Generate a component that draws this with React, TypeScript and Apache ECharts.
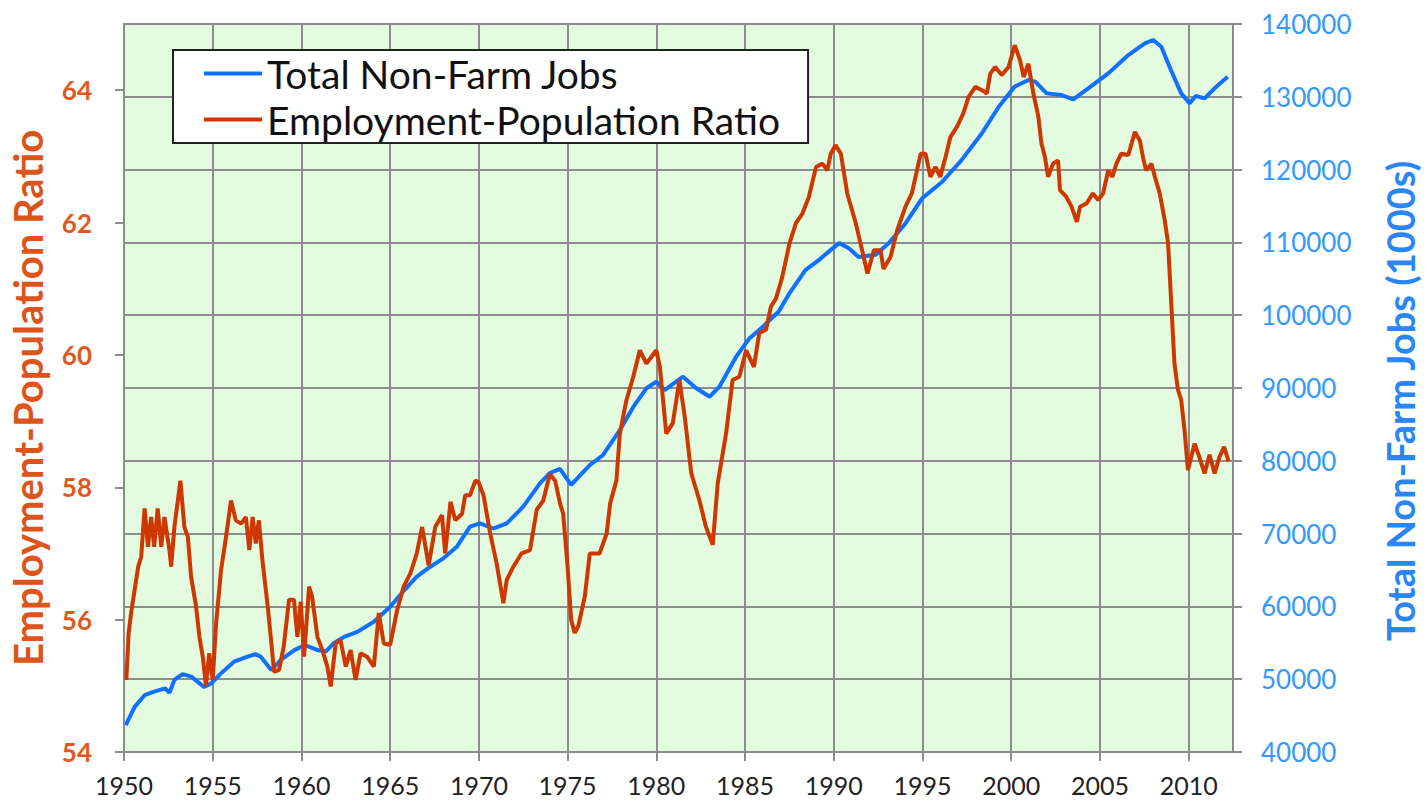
import React, { useEffect, useRef } from "react";
import * as echarts from "echarts";

// Employment-Population Ratio (left axis, %)
const eprYears = [
  1950.13, 1950.26, 1950.4, 1950.6, 1950.8, 1950.97, 1951.16, 1951.35, 1951.53, 1951.7, 1951.9, 1952.1, 1952.28,
  1952.56, 1952.66, 1952.84, 1953.18, 1953.4, 1953.6, 1953.78, 1954.06, 1954.25, 1954.44, 1954.62, 1954.8, 1955.0,
  1955.19, 1955.47, 1955.75, 1956.03, 1956.3, 1956.6, 1956.87, 1957.06, 1957.25, 1957.43, 1957.6, 1957.8, 1958.1,
  1958.27, 1958.46, 1958.74, 1959.0, 1959.3, 1959.58, 1959.77, 1959.96, 1960.15, 1960.43, 1960.6, 1960.9, 1961.18,
  1961.46, 1961.65, 1961.93, 1962.2, 1962.5, 1962.77, 1963.05, 1963.33, 1963.7, 1964.08, 1964.36, 1964.64, 1965.0,
  1965.4, 1965.76, 1966.14, 1966.5, 1966.8, 1967.17, 1967.54, 1967.92, 1968.1, 1968.4, 1968.67, 1969.05, 1969.23,
  1969.5, 1969.8, 1969.98, 1970.26, 1970.64, 1971.0, 1971.38, 1971.57, 1971.94, 1972.4, 1972.88, 1973.26, 1973.63,
  1974.0, 1974.3, 1974.57, 1974.75, 1975.0, 1975.2, 1975.4, 1975.6, 1975.97, 1976.25, 1976.8, 1977.2, 1977.4,
  1977.75, 1977.94, 1978.3, 1978.7, 1979.07, 1979.44, 1980.0, 1980.2, 1980.56, 1980.93, 1981.3, 1981.6, 1981.97,
  1982.43, 1982.8, 1983.18, 1983.46, 1983.93, 1984.3, 1984.68, 1985.06, 1985.5, 1985.8, 1986.18, 1986.46, 1986.74,
  1987.1, 1987.5, 1987.87, 1988.24, 1988.6, 1989.0, 1989.36, 1989.64, 1989.83, 1990.1, 1990.4, 1990.76, 1991.24,
  1991.6, 1991.9, 1992.26, 1992.64, 1992.8, 1993.2, 1993.57, 1994.04, 1994.4, 1994.9, 1995.17, 1995.45, 1995.73,
  1996.0, 1996.3, 1996.57, 1996.95, 1997.3, 1997.6, 1997.98, 1998.35, 1998.63, 1998.82, 1999.1, 1999.47, 1999.85,
  2000.2, 2000.5, 2000.7, 2000.97, 2001.25, 2001.53, 2001.7, 2001.9, 2002.08, 2002.36, 2002.64, 2002.75, 2003.1,
  2003.4, 2003.7, 2003.88, 2004.25, 2004.6, 2004.9, 2005.18, 2005.47, 2005.7, 2005.93, 2006.2, 2006.6, 2006.97,
  2007.25, 2007.44, 2007.6, 2007.9, 2008.1, 2008.37, 2008.65, 2008.84, 2009.0, 2009.2, 2009.4, 2009.58, 2009.77,
  2009.96, 2010.15, 2010.34, 2010.6, 2010.9, 2011.18, 2011.46, 2011.74, 2012.0, 2012.25,
];
const eprValues = [
  55.09, 55.79, 56.1, 56.45, 56.8, 56.95, 57.68, 57.1, 57.55, 57.1, 57.68, 57.1, 57.55,
  57.05, 56.8, 57.4, 58.1, 57.4, 57.25, 56.65, 56.2, 55.74, 55.44, 55.0, 55.49, 55.09,
  55.94, 56.75, 57.25, 57.8, 57.5, 57.45, 57.55, 57.05, 57.55, 57.15, 57.5, 56.9, 56.2,
  55.74, 55.21, 55.24, 55.59, 56.3, 56.3, 55.74, 56.27, 55.44, 56.5, 56.35, 55.74, 55.54,
  55.29, 54.99, 55.64, 55.69, 55.29, 55.54, 55.09, 55.49, 55.44, 55.29, 56.1, 55.64, 55.62,
  56.15, 56.5, 56.7, 57.0, 57.4, 56.82, 57.4, 57.58, 57.0, 57.78, 57.5, 57.6, 57.88,
  57.88, 58.1, 58.08, 57.88, 57.3, 56.85, 56.25, 56.6, 56.8, 57.0, 57.05, 57.66, 57.8,
  58.2, 58.1, 57.76, 57.6, 56.8, 56.0, 55.8, 55.9, 56.35, 57.0, 57.0, 57.3, 57.76,
  58.1, 58.8, 59.3, 59.67, 60.07, 59.87, 60.07, 59.82, 58.81, 58.97, 59.62, 59.07, 58.21,
  57.8, 57.4, 57.13, 58.06, 58.81, 59.62, 59.67, 60.07, 59.82, 60.33, 60.38, 60.73, 60.85,
  61.18, 61.68, 61.99, 62.14, 62.39, 62.84, 62.89, 62.79, 63.04, 63.17, 63.04, 62.44, 61.99,
  61.58, 61.23, 61.58, 61.58, 61.3, 61.48, 61.88, 62.24, 62.44, 63.04, 63.04, 62.69, 62.84,
  62.69, 62.99, 63.29, 63.45, 63.65, 63.9, 64.05, 64.0, 63.95, 64.25, 64.35, 64.23, 64.35,
  64.68, 64.45, 64.2, 64.4, 63.95, 63.6, 63.2, 62.99, 62.69, 62.89, 62.94, 62.49, 62.39,
  62.24, 62.01, 62.24, 62.29, 62.44, 62.34, 62.44, 62.79, 62.69, 62.89, 63.04, 63.02, 63.37,
  63.24, 62.97, 62.79, 62.89, 62.69, 62.44, 62.04, 61.69, 60.88, 59.87, 59.47, 59.32, 58.86,
  58.26, 58.46, 58.66, 58.46, 58.21, 58.49, 58.21, 58.46, 58.61, 58.39,
];

// Total Non-Farm Jobs (right axis, thousands)
const jobsYears = [
  1950.1, 1950.6, 1951.16, 1951.7, 1952.3, 1952.56, 1952.84, 1953.3, 1953.8, 1954.5, 1954.9, 1955.47, 1956.2,
  1956.97, 1957.4, 1957.7, 1958.3, 1958.84, 1959.6, 1960.2, 1960.9, 1961.37, 1961.8, 1962.4, 1963.15, 1964.08,
  1965.0, 1965.8, 1966.5, 1967.26, 1968.0, 1968.76, 1969.5, 1970.07, 1970.8, 1971.57, 1972.5, 1973.44, 1974.0,
  1974.57, 1975.2, 1976.25, 1977.0, 1977.94, 1978.7, 1979.44, 1980.0, 1980.47, 1981.5, 1982.25, 1983.0, 1983.56,
  1984.5, 1985.24, 1986.0, 1986.9, 1987.5, 1988.4, 1989.17, 1989.7, 1990.3, 1990.85, 1991.4, 1992.36, 1993.1,
  1994.04, 1994.98, 1996.1, 1997.2, 1998.35, 1999.3, 2000.2, 2000.97, 2001.35, 2002.0, 2002.84, 2003.5, 2004.34,
  2005.47, 2006.6, 2007.53, 2008.0, 2008.46, 2009.0, 2009.58, 2010.06, 2010.4, 2010.9, 2011.46, 2012.2,
];
const jobsValues = [
  43700, 46200, 47800, 48300, 48750, 48150, 49900, 50700, 50350, 48950, 49400, 50800, 52400,
  53100, 53450, 53100, 51250, 52650, 54000, 54700, 54000, 53800, 54900, 55800, 56500, 57900,
  59960, 62250, 64100, 65450, 66600, 68200, 70950, 71400, 70700, 71400, 73700, 76900, 78300,
  78900, 76680, 79400, 80800, 84200, 87400, 89960, 90860, 89700, 91550, 89960, 88800, 90200,
  94300, 96800, 98400, 100500, 103000, 106200, 107600, 108700, 109900, 109200, 108000, 108300, 109900,
  112600, 116060, 118300, 121300, 124990, 128640, 131400, 132300, 132080, 130470, 130240, 129650, 131160,
  133220, 135740, 137340, 137800, 136880, 133680, 130470, 129100, 130110, 129790, 131160, 132760,
];

const xTicks = [1950, 1955, 1960, 1965, 1970, 1975, 1980, 1985, 1990, 1995, 2000, 2005, 2010];
const leftTicks = [54, 56, 58, 60, 62, 64];

const FONT = "Lato";
const GRID_COLOR = "#8c8c8c";

export default function App() {
  const ref = useRef<HTMLDivElement>(null);
  useEffect(() => {
    if (!ref.current) return;
    const chart = echarts.init(ref.current, null, { renderer: "svg" });
    const jobsData = jobsYears.map((y, i) => [y, jobsValues[i]]);
    const eprData = eprYears.map((y, i) => [y, eprValues[i]]);
    chart.setOption({
      animation: false,
      backgroundColor: "#ffffff",
      grid: {
        left: 122,
        right: 191,
        top: 24,
        bottom: 52,
        show: true,
        backgroundColor: "#E3FBDF",
        borderColor: GRID_COLOR,
        borderWidth: 2,
      },
      legend: {
        data: [
          { name: "Total Non-Farm Jobs", icon: "rect" },
          { name: "Employment-Population Ratio", icon: "rect" },
        ],
        orient: "vertical",
        left: 173,
        top: 50,
        backgroundColor: "#ffffff",
        borderColor: "#222222",
        borderWidth: 2,
        borderRadius: 0,
        padding: [4, 28, 4, 31],
        itemGap: 7,
        itemWidth: 58,
        itemHeight: 4,
        textStyle: { fontSize: 39, color: "#111111", fontFamily: FONT },
      },
      xAxis: {
        type: "value",
        min: 1950,
        max: 2012.5,
        interval: 5,
        axisLine: { show: true, onZero: false, lineStyle: { color: GRID_COLOR, width: 2 } },
        axisTick: { show: true, length: 9, customValues: xTicks, lineStyle: { color: GRID_COLOR, width: 2 } },
        axisLabel: {
          fontSize: 25,
          lineHeight: 25,
          color: "#222222",
          fontFamily: FONT,
          margin: 20,
          customValues: xTicks,
          formatter: (v: number) => (v % 5 === 0 ? String(v) : ""),
        },
        splitLine: { show: true, lineStyle: { color: GRID_COLOR, width: 2 } },
      },
      yAxis: [
        {
          type: "value",
          position: "left",
          min: 54,
          max: 65,
          interval: 2,
          name: "Employment-Population Ratio",
          nameLocation: "middle",
          nameRotate: 90,
          nameGap: 76,
          nameTextStyle: {
            fontSize: 40,
            fontWeight: "bold",
            color: "#DC5419",
            fontFamily: FONT,
            padding: [0, 20, 0, 0],
          },
          axisLine: { show: true, lineStyle: { color: GRID_COLOR, width: 2 } },
          axisTick: { show: true, length: 9, customValues: leftTicks, lineStyle: { color: GRID_COLOR, width: 2 } },
          axisLabel: {
            fontSize: 26,
            fontWeight: "bold",
            color: "#E2581C",
            fontFamily: FONT,
            margin: 32,
            customValues: leftTicks,
            formatter: (v: number) => (v <= 64 ? String(v) : ""),
          },
          splitLine: { show: false },
        },
        {
          type: "value",
          position: "right",
          min: 40000,
          max: 140000,
          interval: 10000,
          name: "Total Non-Farm Jobs (1000s)",
          nameLocation: "middle",
          nameRotate: 90,
          nameGap: 148,
          nameTextStyle: {
            fontSize: 38,
            fontWeight: "bold",
            color: "#2B86F5",
            fontFamily: FONT,
            padding: [0, 26, 0, 0],
          },
          axisLine: { show: true, lineStyle: { color: GRID_COLOR, width: 2 } },
          axisTick: { show: true, length: 9, lineStyle: { color: GRID_COLOR, width: 2 } },
          axisLabel: {
            fontSize: 26,
            color: "#3399FF",
            fontFamily: FONT,
            margin: 28,
            formatter: (v: number) => String(v),
          },
          splitLine: { show: true, lineStyle: { color: GRID_COLOR, width: 2 } },
        },
      ],
      series: [
        {
          name: "Total Non-Farm Jobs",
          type: "line",
          yAxisIndex: 1,
          data: jobsData,
          symbol: "none",
          showSymbol: false,
          color: "#1170FF",
          lineStyle: { color: "#1170FF", width: 4 },
        },
        {
          name: "Employment-Population Ratio",
          type: "line",
          yAxisIndex: 0,
          data: eprData,
          symbol: "none",
          showSymbol: false,
          color: "#CF3700",
          lineStyle: { color: "#CF3700", width: 4 },
        },
      ],
    });
    return () => chart.dispose();
  }, []);
  return (
    <div
      ref={ref}
      style={{ position: "fixed", left: 0, top: 0, width: 1427, height: 804, background: "#fff" }}
    />
  );
}
